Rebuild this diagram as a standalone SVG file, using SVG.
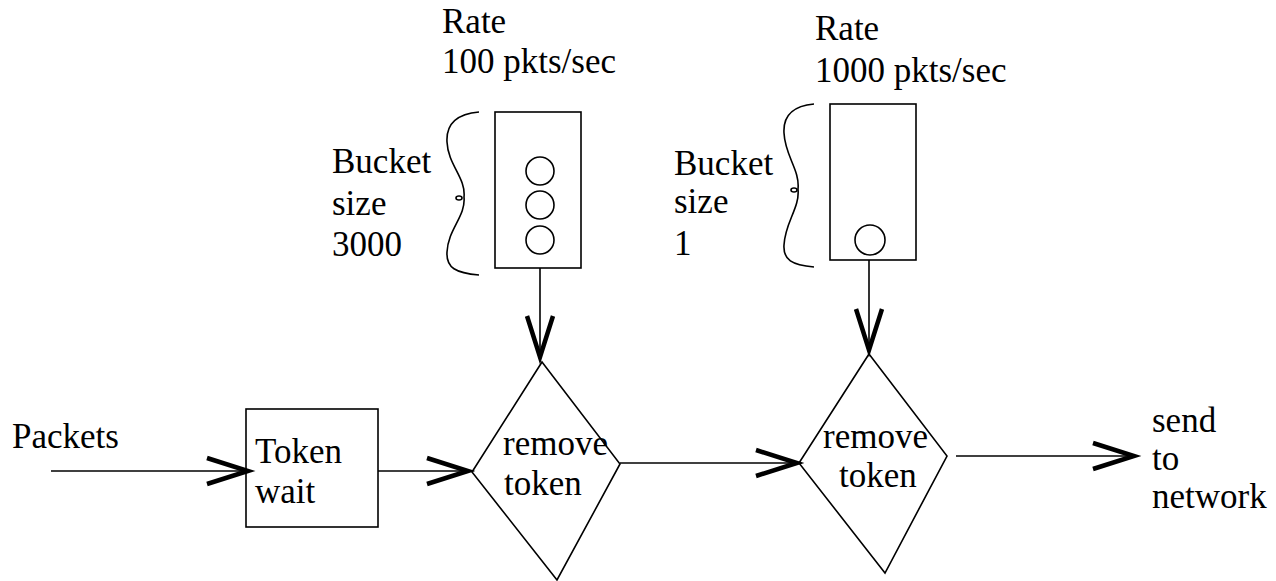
<svg xmlns="http://www.w3.org/2000/svg" width="1276" height="581" viewBox="0 0 1276 581">
<defs>
<style>
.t{font-family:"Liberation Serif","Times New Roman",serif;font-size:35px;fill:#000}
.s{fill:none;stroke:#000;stroke-width:1.6}
.c{fill:none;stroke:#000;stroke-width:1.6}
</style>
<marker id="ah" markerUnits="userSpaceOnUse" markerWidth="50" markerHeight="40" viewBox="-45 -20 50 40" refX="0" refY="0" orient="auto" overflow="visible">
<polyline points="-41,-13 0,0 -41,13" fill="none" stroke="#000" stroke-width="4.5" stroke-linejoin="miter"/>
</marker>
</defs>
<rect width="1276" height="581" fill="#fff"/>

<g id="rate1">
<text class="t" x="442" y="33">Rate</text>
<text class="t" x="442" y="73">100 pkts/sec</text>
</g>
<g id="rate2">
<text class="t" x="815" y="40">Rate</text>
<text class="t" x="815" y="82">1000 pkts/sec</text>
</g>

<g id="bucket1-label">
<text class="t" x="332" y="173">Bucket</text>
<text class="t" x="332" y="215">size</text>
<text class="t" x="332" y="256">3000</text>
<path class="s" d="M479 112 C456 114,446 124,447 142 C448 165,466 178,464 197 C466 216,448 229,447 252 C446 268,456 273,479 275"/>
<ellipse class="s" cx="459" cy="198" rx="3" ry="2"/>
</g>
<g id="bucket1">
<rect class="s" x="495" y="112" width="86" height="156"/>
<circle class="s" cx="540" cy="171" r="14"/>
<circle class="s" cx="540" cy="205" r="14"/>
<circle class="s" cx="540" cy="240" r="14"/>
</g>

<g id="bucket2-label">
<text class="t" x="674" y="175">Bucket</text>
<text class="t" x="674" y="213">size</text>
<text class="t" x="674" y="255">1</text>
<path class="s" d="M814 104 C792 106,783 116,784 133 C785 156,800 170,798 189 C800 208,785 222,784 245 C783 260,792 265,814 267"/>
<ellipse class="s" cx="794" cy="190" rx="3" ry="2"/>
</g>
<g id="bucket2">
<rect class="s" x="830" y="104" width="86" height="156"/>
<circle class="s" cx="870" cy="240" r="15"/>
</g>

<g id="packets">
<text class="t" x="12" y="448">Packets</text>
</g>
<g id="tokenwait">
<rect class="s" x="246" y="409" width="132" height="118"/>
<text class="t" x="255" y="463">Token</text>
<text class="t" x="255" y="503">wait</text>
</g>
<g id="remove1">
<polygon class="s" points="542,362 620,464 557,580 472,472"/>
<text class="t" x="503" y="455">remove</text>
<text class="t" x="504" y="495">token</text>
</g>
<g id="remove2">
<polygon class="s" points="869,354 947,456 885,573 799,463"/>
<text class="t" x="823" y="448">remove</text>
<text class="t" x="839" y="487">token</text>
</g>
<g id="network">
<text class="t" x="1152" y="432">send</text>
<text class="t" x="1152" y="470">to</text>
<text class="t" x="1152" y="508">network</text>
</g>

<g id="connectors">
<line class="c" x1="51" y1="471" x2="248" y2="471" marker-end="url(#ah)"/>
<line class="c" x1="378" y1="471" x2="468" y2="471" marker-end="url(#ah)"/>
<line class="c" x1="620" y1="463" x2="797" y2="463" marker-end="url(#ah)"/>
<line class="c" x1="956" y1="456" x2="1134" y2="456" marker-end="url(#ah)"/>
<line class="c" x1="540" y1="268" x2="540" y2="357" marker-end="url(#ah)"/>
<line class="c" x1="869" y1="260" x2="869" y2="350" marker-end="url(#ah)"/>
</g>
</svg>
